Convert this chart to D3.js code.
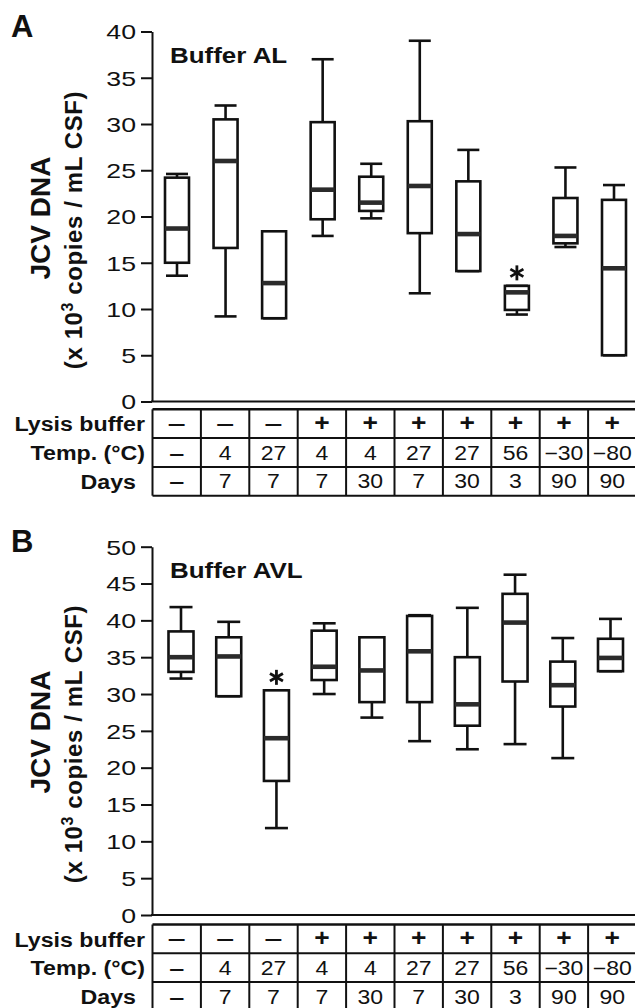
<!DOCTYPE html>
<html>
<head>
<meta charset="utf-8">
<script src="https://cdn.jsdelivr.net/npm/d3@7"></script>
<style>
  body { margin: 0; background: #fff; }
  svg { display: block; }
  text { font-family: "Liberation Sans", Arial, Helvetica, sans-serif; fill: #111; }
</style>
</head>
<body>
<div id="chart"></div>
<script>
// ---- data ----
var conditions = ["c1", "c2", "c3", "c4", "c5", "c6", "c7", "c8", "c9", "c10"];
var lysisRow = ["\u2212", "\u2212", "\u2212", "+", "+", "+", "+", "+", "+", "+"];
var tempRow  = ["\u2212", "4", "27", "4", "4", "27", "27", "56", "\u221230", "\u221280"];
var daysRow  = ["\u2212", "7", "7", "7", "30", "7", "30", "3", "90", "90"];
var rowLabels = ["Lysis buffer", "Temp. (\u00b0C)", "Days"];

// Buffer AL (x10^3 copies / mL CSF)
var alMin = [13.6,  9.2,  9.0, 17.9, 19.8, 11.7, 14.1,  9.4, 16.7,  5.0];
var alQ1  = [15.0, 16.6,  9.0, 19.7, 20.6, 18.2, 14.1,  9.9, 17.1,  5.0];
var alMed = [18.7, 26.0, 12.8, 22.9, 21.5, 23.3, 18.1, 11.8, 17.9, 14.4];
var alQ3  = [24.2, 30.5, 18.4, 30.2, 24.3, 30.3, 23.8, 12.5, 22.0, 21.8];
var alMax = [24.6, 32.0, 18.4, 37.0, 25.7, 39.0, 27.2, 12.5, 25.3, 23.4];
var alStar = [7];
var alTicks = [0, 5, 10, 15, 20, 25, 30, 35, 40];

// Buffer AVL
var avlMin = [32.1, 29.7, 11.8, 30.0, 26.8, 23.6, 22.5, 23.2, 21.3, 33.1];
var avlQ1  = [33.0, 29.7, 18.2, 31.9, 28.9, 28.9, 25.7, 31.7, 28.3, 33.1];
var avlMed = [35.0, 35.1, 24.0, 33.7, 33.2, 35.8, 28.6, 39.7, 31.2, 34.9];
var avlQ3  = [38.5, 37.7, 30.5, 38.6, 37.7, 40.6, 35.0, 43.6, 34.4, 37.5];
var avlMax = [41.8, 39.8, 30.5, 39.6, 37.7, 40.7, 41.7, 46.2, 37.6, 40.2];
var avlStar = [2];
var avlTicks = [0, 5, 10, 15, 20, 25, 30, 35, 40, 45, 50];

// ---- layout ----
var width = 635, height = 1008;
var sx = 1.18; // horizontal stretch of the original lettering

var svg = d3.select("#chart").append("svg")
    .attr("width", width)
    .attr("height", height);

var cols = d3.scaleBand().domain(conditions).range([152.5, 636.5]);

function stretchText(g, str, x, y, size, weight, anchor, k) {
  return g.append("text")
      .attr("transform", "translate(" + x + "," + y + ") scale(" + (k || sx) + ",1)")
      .attr("text-anchor", anchor)
      .style("font-size", size + "px")
      .style("font-weight", weight)
      .text(str);
}

function drawPanel(p) {
  var g = svg.append("g");
  var y = d3.scaleLinear().domain([0, p.yMax]).range([p.zeroY, p.topY]);
  var x = d3.scalePoint().domain(conditions).range(p.xRange);

  // panel letter and buffer name
  g.append("text")
      .attr("x", 11).attr("y", p.letterY)
      .style("font-size", "31px").style("font-weight", "bold")
      .text(p.letter);
  stretchText(g, p.title, 170, p.titleY, 22, "bold", "start");

  // y axis
  var axis = g.append("g")
      .attr("transform", "translate(152,0)")
      .call(d3.axisLeft(y).tickValues(p.ticks).tickSize(11).tickSizeOuter(0).tickPadding(5));
  axis.select(".domain").attr("stroke", "#111").attr("stroke-width", 2);
  axis.selectAll(".tick line").attr("stroke", "#111").attr("stroke-width", 2);
  axis.selectAll(".tick text")
      .attr("x", null).attr("dy", null)
      .attr("transform", "translate(-16,7.3) scale(1.27,1)")
      .style("font-size", "21px")
      .style("font-family", "'Liberation Sans', Arial, sans-serif")
      .attr("fill", "#111");

  // baseline at zero across the plot
  g.append("line")
      .attr("x1", 151).attr("x2", width + 2)
      .attr("y1", y(0)).attr("y2", y(0))
      .attr("stroke", "#111").attr("stroke-width", 2.2);

  // y axis title
  var cy1 = p.titleCy, cy2 = p.titleCy + 12;
  g.append("text")
      .attr("transform", "translate(50," + cy1 + ") rotate(-90)")
      .attr("text-anchor", "middle")
      .style("font-size", "28px").style("font-weight", "bold")
      .text("JCV DNA");
  var t2 = g.append("text")
      .attr("transform", "translate(81.5," + cy2 + ") rotate(-90)")
      .attr("text-anchor", "middle")
      .style("font-size", "24px").style("font-weight", "bold")
      .style("letter-spacing", "0.6px");
  t2.append("tspan").text("(x 10");
  t2.append("tspan").attr("dy", -9).style("font-size", "16px").text("3");
  t2.append("tspan").attr("dy", 9).text(" copies / mL CSF)");

  // boxes
  var bw = p.boxW;
  var box = g.selectAll(".box").data(conditions).enter().append("g")
      .attr("class", "box")
      .attr("transform", function(d) { return "translate(" + x(d) + ",0)"; });

  box.append("line")
      .attr("y1", function(d, i) { return y(p.max[i]); })
      .attr("y2", function(d, i) { return y(p.q3[i]); })
      .attr("stroke", "#111").attr("stroke-width", 2.6);
  box.append("line")
      .attr("y1", function(d, i) { return y(p.q1[i]); })
      .attr("y2", function(d, i) { return y(p.min[i]); })
      .attr("stroke", "#111").attr("stroke-width", 2.6);
  box.append("line")
      .attr("x1", -bw / 2 + 1).attr("x2", bw / 2 - 1)
      .attr("y1", function(d, i) { return y(p.max[i]); })
      .attr("y2", function(d, i) { return y(p.max[i]); })
      .attr("stroke", "#111").attr("stroke-width", 2.6);
  box.append("line")
      .attr("x1", -bw / 2 + 1).attr("x2", bw / 2 - 1)
      .attr("y1", function(d, i) { return y(p.min[i]); })
      .attr("y2", function(d, i) { return y(p.min[i]); })
      .attr("stroke", "#111").attr("stroke-width", 2.6);
  box.append("rect")
      .attr("x", -bw / 2).attr("width", bw)
      .attr("y", function(d, i) { return y(p.q3[i]); })
      .attr("height", function(d, i) { return y(p.q1[i]) - y(p.q3[i]); })
      .attr("fill", "#fff").attr("stroke", "#111").attr("stroke-width", 2.6);
  box.append("line")
      .attr("x1", -bw / 2).attr("x2", bw / 2)
      .attr("y1", function(d, i) { return y(p.med[i]); })
      .attr("y2", function(d, i) { return y(p.med[i]); })
      .attr("stroke", "#2b2b2b").attr("stroke-width", 4.6);

  // significance asterisks
  var star = g.selectAll(".star").data(p.stars).enter().append("g")
      .attr("class", "star")
      .attr("transform", function(i) { return "translate(" + x(conditions[i]) + "," + (y(p.max[i]) - 13) + ")"; });
  [90, 30, 150].forEach(function(a) {
    var r = a * Math.PI / 180, l = 7.5;
    star.append("line")
        .attr("x1", -l * Math.cos(r)).attr("x2", l * Math.cos(r))
        .attr("y1", -l * Math.sin(r)).attr("y2", l * Math.sin(r))
        .attr("stroke", "#111").attr("stroke-width", 2.8);
  });

  // condition table
  var rowH = 28.8, top = p.tableY;
  var rows = [lysisRow, tempRow, daysRow];
  var x0 = cols.range()[0], x1 = cols.range()[1];
  d3.range(4).forEach(function(r) {
    g.append("line")
        .attr("x1", x0).attr("x2", x1)
        .attr("y1", top + r * rowH).attr("y2", top + r * rowH)
        .attr("stroke", "#111").attr("stroke-width", r === 0 ? 2.4 : 2);
  });
  g.selectAll(".sep").data(d3.range(11)).enter().append("line")
      .attr("x1", function(k) { return x0 + k * cols.step(); })
      .attr("x2", function(k) { return x0 + k * cols.step(); })
      .attr("y1", top).attr("y2", top + 3 * rowH)
      .attr("stroke", "#111").attr("stroke-width", 2);

  rowLabels.forEach(function(lab, r) {
    var rx = r === 2 ? 136 : 145;
    stretchText(g, lab, rx, top + r * rowH + 22, 20, "bold", "end", 1.16);
  });

  rows.forEach(function(vals, r) {
    vals.forEach(function(v, c) {
      var cx = cols(conditions[c]) + cols.bandwidth() / 2;
      var by = top + r * rowH + 21.5;
      if (v === "\u2212") {
        stretchText(g, "\u2013", cx, by - (r === 0 ? 1 : 0), 20, "bold", "middle", r === 0 ? 1.6 : 1.35);
      } else if (v === "+") {
        stretchText(g, "+", cx, by, 24, "bold", "middle", 1.1);
      } else {
        stretchText(g, v, cx, by, 19.5, "normal", "middle");
      }
    });
  });
}

drawPanel({
  letter: "A", letterY: 37, title: "Buffer AL", titleY: 63,
  yMax: 40, zeroY: 401.5, topY: 31.5, ticks: alTicks, titleCy: 218,
  xRange: [177, 614], boxW: 24,
  min: alMin, q1: alQ1, med: alMed, q3: alQ3, max: alMax, stars: alStar,
  tableY: 409.3
});

drawPanel({
  letter: "B", letterY: 552, title: "Buffer AVL", titleY: 578,
  yMax: 50, zeroY: 915, topY: 546.7, ticks: avlTicks, titleCy: 732,
  xRange: [181, 610.5], boxW: 25,
  min: avlMin, q1: avlQ1, med: avlMed, q3: avlQ3, max: avlMax, stars: avlStar,
  tableY: 924.5
});
</script>
</body>
</html>
